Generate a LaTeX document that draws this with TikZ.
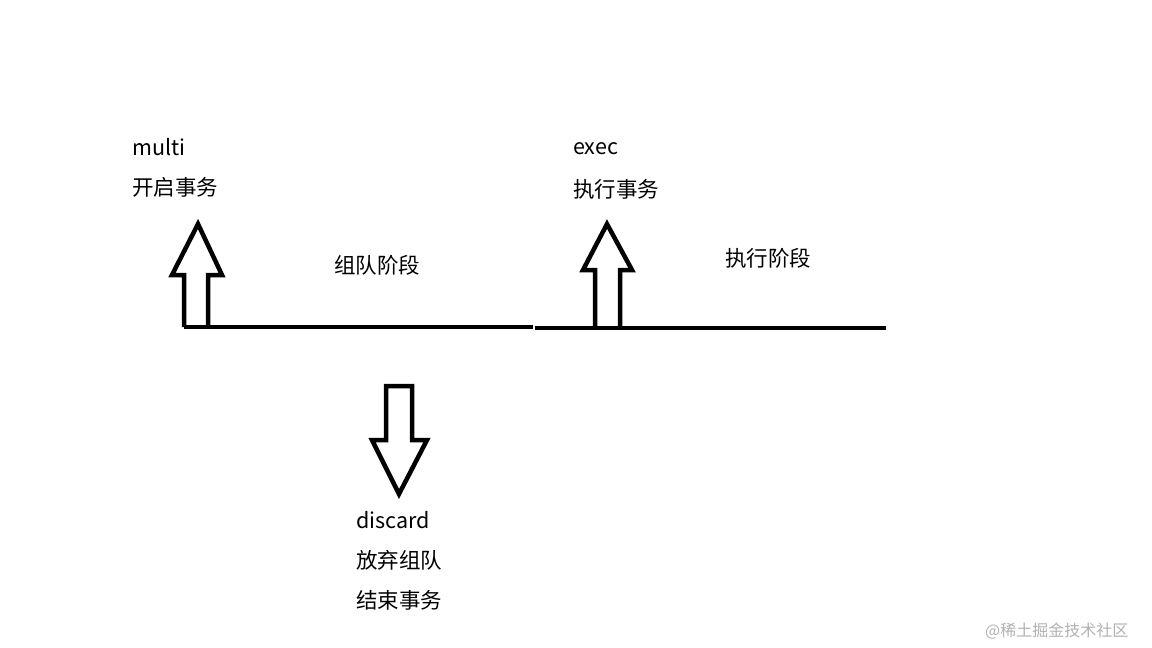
\documentclass[tikz,border=0pt]{standalone}
\usepackage{fontspec}
\setmainfont{Noto Sans CJK SC}
\begin{document}
\begin{tikzpicture}[x=1pt,y=-1pt,
  thick line/.style={line width=4.5pt,line join=miter},
  lbl/.style={anchor=west,inner sep=0pt,font=\fontsize{21.5}{21.5}\selectfont}]
\useasboundingbox (0,0) rectangle (1152,648);
\fill[white] (0,0) rectangle (1152,648);
% time line
\draw[thick line] (184,327) -- (533,327);
\draw[thick line] (535,328) -- (886,328);
% up arrow multi
\draw[thick line] (184,327) -- (184,275) -- (172,275) -- (198,224) -- (222,275) -- (208,275) -- (208,327);
% up arrow exec
\draw[thick line] (595,327) -- (595,270) -- (583,270) -- (607,224) -- (632,270) -- (620,270) -- (620,327);
% down arrow discard
\draw[thick line] (386,440) -- (386,386) -- (412,386) -- (412,440) -- (427,440) -- (399,494) -- (372,440) -- cycle;
\node[lbl] (m1) at (132,147) {multi};
\node[lbl] (m2) at (132,187) {开启事务};
\node[lbl] (e1) at (573,149) {exec};
\node[lbl] (e2) at (573,189) {执行事务};
\node[lbl] (p1) at (334,265) {组队阶段};
\node[lbl] (p2) at (725,258) {执行阶段};
\node[lbl] (d1) at (356,520) {discard};
\node[lbl] (d2) at (356,560) {放弃组队};
\node[lbl] (d3) at (356,600) {结束事务};
\node[anchor=west,inner sep=0pt,text=gray!60,font=\fontsize{16}{16}\selectfont] (wm) at (985,631) {@稀土掘金技术社区};
\end{tikzpicture}
\end{document}
